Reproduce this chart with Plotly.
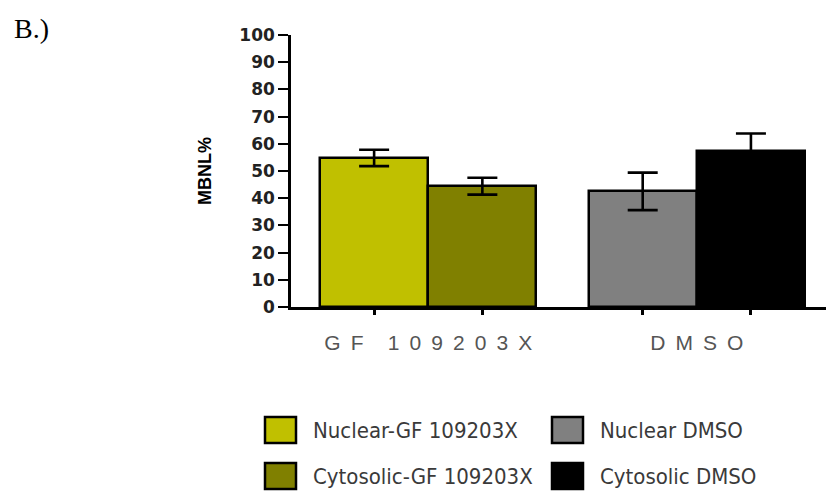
import plotly.graph_objects as go

# ---- data -------------------------------------------------------------
groups = ["GF 109203X", "DMSO"]
series_names = ["Nuclear-GF 109203X", "Cytosolic-GF 109203X", "Nuclear DMSO", "Cytosolic DMSO"]
series_group = [0, 0, 1, 1]      # which treatment group each series belongs to
series_slot = [0, 1, 0, 1]       # 0 = nuclear (left bar), 1 = cytosolic (right bar)
means = [54.8, 44.4, 42.5, 57.4]
errors = [3.0, 3.1, 6.9, 6.4]
colors = ["#C0C000", "#808000", "#808080", "#000000"]
y_ticks = list(range(0, 101, 10))

# ---- layout constants ---------------------------------------------------
W, H = 826, 497
L, R, T, B = 291, 0, 35, 190
PW, PH = W - L - R, H - T - B
group_pos = [0.0, 1.0]
bar_w = 0.403
x_range = [-0.511, 1.481]


def px_x(px):
    return (px - L) / PW


def px_y(py):
    return (H - B - py) / PH


def spaced(s):
    return " \u2009".join(s.replace(" ", "\u2009"))


fig = go.Figure()

bar_centers = []
for name, g, slot, m, e, c in zip(series_names, series_group, series_slot, means, errors, colors):
    xc = group_pos[g] + (slot - 0.5) * bar_w
    bar_centers.append(xc)
    fig.add_trace(go.Bar(
        x=[xc], y=[m], width=[bar_w], name=name,
        marker=dict(color=c, line=dict(color="black", width=2.5)),
        error_y=dict(type="data", array=[e], color="black", thickness=2.6, width=15),
        showlegend=False,
    ))

# ---- legend drawn as swatches + labels (2 x 2 grid) ---------------------
sw_left = [265, 552]
sw_top = [417, 463]
sw_w, sw_h = 31, 26
text_dx = 46
shapes = []
annotations = []
for name, g, slot, c in zip(series_names, series_group, series_slot, colors):
    x0, y0 = sw_left[g], sw_top[slot]
    shapes.append(dict(
        type="rect", xref="paper", yref="paper",
        x0=px_x(x0), x1=px_x(x0 + sw_w), y0=px_y(y0), y1=px_y(y0 + sw_h),
        fillcolor=c, line=dict(color="black", width=2.5), layer="above",
    ))
    annotations.append(dict(
        xref="paper", yref="paper", x=px_x(x0 + text_dx), y=px_y(y0 + sw_h / 2),
        xanchor="left", yanchor="middle", showarrow=False, text=name,
        font=dict(family="DejaVu Sans Condensed, Liberation Sans, Arial, sans-serif",
                  size=22, color="#3a3a3a"),
    ))

annotations.append(dict(
    xref="paper", yref="paper", x=px_x(12), y=px_y(28),
    xanchor="left", yanchor="middle", showarrow=False, text="B.)",
    font=dict(family="Liberation Serif, Times New Roman, serif", size=28, color="black"),
))

fig.update_layout(
    width=W, height=H,
    margin=dict(l=L, r=R, t=T, b=B, pad=0),
    paper_bgcolor="white", plot_bgcolor="white",
    bargap=0, barmode="overlay",
    shapes=shapes, annotations=annotations,
    xaxis=dict(
        range=x_range, showgrid=False, zeroline=False,
        showline=True, linecolor="black", linewidth=2.5,
        tickmode="array", tickvals=group_pos, ticktext=[spaced(g) for g in groups],
        ticks="", ticklabelstandoff=15,
        tickfont=dict(family="Liberation Sans, Arial, sans-serif", size=21, color="#555555"),
        minor=dict(tickmode="array", tickvals=bar_centers, ticks="outside",
                   ticklen=5, tickwidth=2.5, tickcolor="black"),
        automargin=False,
    ),
    yaxis=dict(
        range=[0, 100], showgrid=False, zeroline=False,
        showline=True, linecolor="black", linewidth=2.5,
        tickmode="array", tickvals=y_ticks,
        ticks="outside", ticklen=10, tickwidth=2, tickcolor="black",
        tickfont=dict(family="DejaVu Sans, sans-serif", size=17, color="#222222", weight="bold"),
        title=dict(text="MBNL%", standoff=24,
                   font=dict(family="Liberation Sans, Arial, sans-serif", size=18,
                             color="black", weight="bold")),
        automargin=False,
    ),
)

fig.write_html("out.html")
